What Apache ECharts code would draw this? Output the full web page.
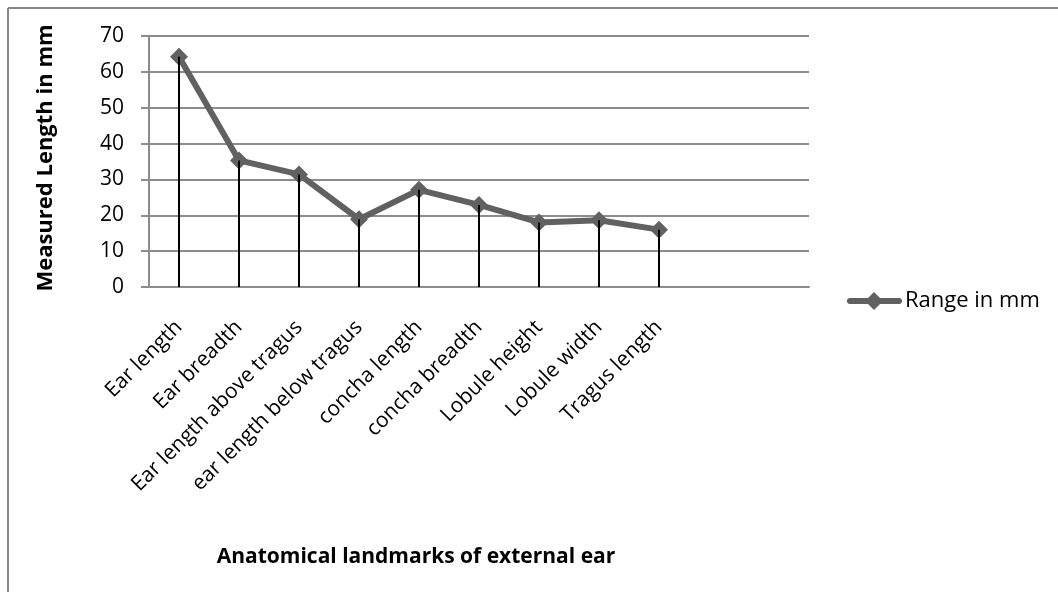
<!DOCTYPE html>
<html>
<head>
<meta charset="utf-8">
<script src="https://cdn.jsdelivr.net/npm/echarts@6/dist/echarts.min.js"></script>
<style>
  html, body { margin: 0; padding: 0; background: #fff; }
  #chart { width: 1058px; height: 592px; }
</style>
</head>
<body>
<div id="chart"></div>
<script>
// Anatomical landmarks of the external ear (two trailing empty slots keep the plot width)
const categories = [
  'Ear length', 'Ear breadth', 'Ear length above tragus', 'ear length below tragus',
  'concha length', 'concha breadth', 'Lobule height', 'Lobule width', 'Tragus length', '', ''
];
// Range in mm for each landmark
const rangeValues = [64.2, 35.3, 31.4, 18.9, 27.1, 22.9, 18.0, 18.6, 16.0, null, null];
const seriesName = 'Range in mm';
const yTicks = { min: 0, max: 70, interval: 10 };
const yTitle = 'Measured Length in mm';
const xTitle = 'Anatomical landmarks of external ear';

const font = '"Open Sans", "Noto Sans", sans-serif';
const gridGray = '#8c8c8c';

const chart = echarts.init(document.getElementById('chart'), null, { renderer: 'canvas' });
chart.setOption({
  animation: false,
  backgroundColor: '#ffffff',
  textStyle: { fontFamily: font },
  grid: { left: 149, right: 249, top: 36, bottom: 305, containLabel: false },
  xAxis: {
    type: 'category',
    data: categories,
    boundaryGap: true,
    axisLine: { lineStyle: { color: gridGray, width: 2 } },
    axisTick: { show: false },
    axisLabel: {
      interval: 0, rotate: 45, margin: 37,
      fontFamily: font, fontSize: 21, color: '#000'
    },
    splitLine: { show: false }
  },
  yAxis: {
    type: 'value',
    min: yTicks.min, max: yTicks.max, interval: yTicks.interval,
    axisLine: { show: true, lineStyle: { color: gridGray, width: 2 } },
    axisTick: { show: true, length: 8, lineStyle: { color: gridGray, width: 2 } },
    axisLabel: { margin: 25, fontFamily: font, fontSize: 21, color: '#000' },
    splitLine: { lineStyle: { color: gridGray, width: 2 } }
  },
  series: [
    {
      name: seriesName,
      type: 'line',
      data: rangeValues,
      symbol: 'diamond',
      symbolSize: 18,
      lineStyle: { color: '#616161', width: 6 },
      itemStyle: { color: '#616161' },
      z: 2
    },
    {
      // drop lines from each point down to the category axis
      name: 'drop',
      type: 'bar',
      data: rangeValues,
      barWidth: 2,
      itemStyle: { color: '#000' },
      z: 3,
      silent: true
    }
  ],
  graphic: [
    {
      // chart frame (top and left edges)
      type: 'group',
      children: [
        { type: 'line', shape: { x1: 8, y1: 8, x2: 1058, y2: 8 }, style: { stroke: '#868686', lineWidth: 2 } },
        { type: 'line', shape: { x1: 8, y1: 8, x2: 8, y2: 592 }, style: { stroke: '#868686', lineWidth: 2 } }
      ]
    },
    {
      // legend: line with diamond followed by the series name
      type: 'group',
      children: [
        { type: 'line', shape: { x1: 850, y1: 301, x2: 899, y2: 301 }, style: { stroke: '#616161', lineWidth: 6, lineCap: 'round' } },
        { type: 'polygon', shape: { points: [[874, 292], [883, 301], [874, 310], [865, 301]] }, style: { fill: '#616161' } },
        { type: 'text', x: 905, y: 301, style: { text: seriesName, fontFamily: font, fontSize: 22, fill: '#000', verticalAlign: 'middle' } }
      ]
    },
    {
      // value axis title
      type: 'text',
      x: 46, y: 158, rotation: Math.PI / 2,
      style: {
        text: yTitle,
        fontFamily: font, fontSize: 22, fontWeight: 'bold', fill: '#000',
        align: 'center', verticalAlign: 'middle'
      }
    },
    {
      // category axis title
      type: 'text',
      x: 416, y: 557,
      style: {
        text: xTitle,
        fontFamily: font, fontSize: 21, fontWeight: 'bold', fill: '#000',
        align: 'center', verticalAlign: 'middle'
      }
    }
  ]
});
</script>
</body>
</html>
